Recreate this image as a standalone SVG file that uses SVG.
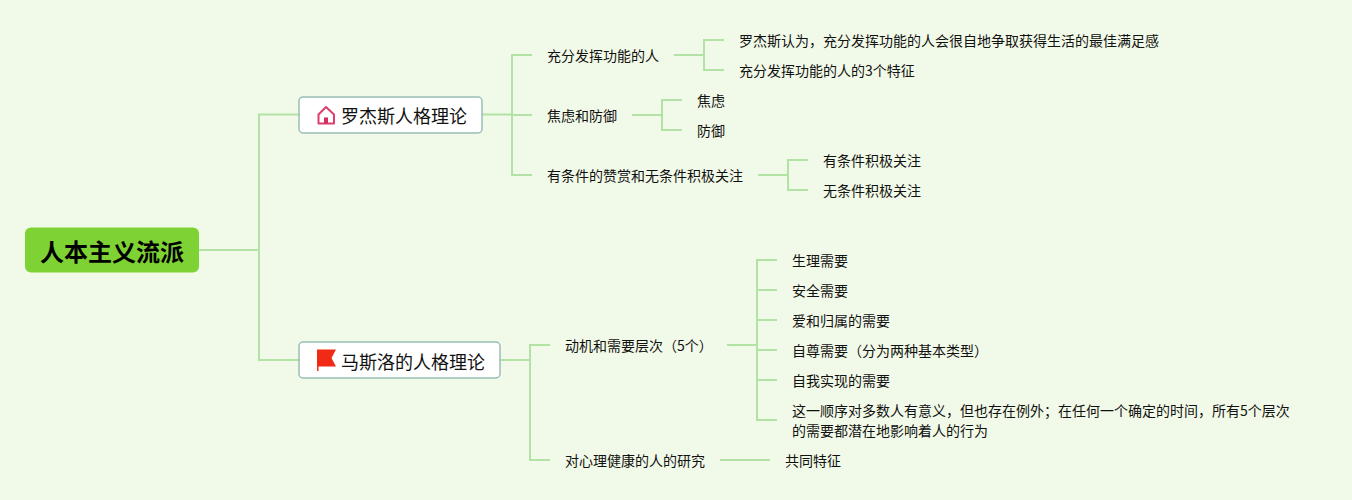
<svg xmlns="http://www.w3.org/2000/svg" width="1352" height="500" viewBox="0 0 1352 500">
<style>
text{font-family:"Noto Sans CJK SC","Liberation Sans",sans-serif;fill:#111;dominant-baseline:central}
.t{font-size:14px}
.m{font-size:18px}
.r{font-size:24px;font-weight:700;fill:#000}
.box{fill:#fff;stroke:#9abdb6;stroke-width:1.500}
.c path{fill:none;stroke:#b3e2a5;stroke-width:2}
</style>
<rect width="1352" height="500" fill="#f1fae8"/>
<g id="connectors" class="c">
<path d="M199 250H259M299 114.500H259V360H299"/>
<path d="M482 114.500H512M532 55H512V175H532M512 115H532"/>
<path d="M500 360H530M550 345H530V460H550"/>
<path d="M674 55H704M724 40H704V70H724"/>
<path d="M632 115H662M682 100H662V130H682"/>
<path d="M758 175H788M808 160H788V190H808"/>
<path d="M727 345H757M777 260H757V420H777M757 290H777M757 320H777M757 350H777M757 380H777"/>
<path d="M720 460H770"/>
</g>
<g id="root"><rect x="25" y="227.500" width="174" height="45" rx="6" fill="#7ed233"/><text class="r" x="40" y="250.500">人本主义流派</text></g>
<g id="n-rogers"><rect class="box" x="299" y="97" width="183" height="36" rx="4"/>
<path d="M326 107L318.500 114.500V123.500H334V114.500Z" fill="#fff" stroke="#dc3f6c" stroke-width="2" stroke-linejoin="round"/><rect x="324" y="117.500" width="4" height="6" fill="#d22f5f"/>
<text class="m" x="341" y="115">罗杰斯人格理论</text></g>
<g id="n-maslow"><rect class="box" x="299" y="342" width="201" height="36" rx="4"/>
<path d="M317 349.500H336L331.500 358L336 366.500H318.500V371H317Z" fill="#f02a14"/>
<text class="m" x="341" y="361">马斯洛的人格理论</text></g>
<g id="a1"><text class="t" x="547" y="55">充分发挥功能的人</text></g>
<g id="a2"><text class="t" x="547" y="115">焦虑和防御</text></g>
<g id="a3"><text class="t" x="547" y="175">有条件的赞赏和无条件积极关注</text></g>
<g id="a11"><text class="t" x="739" y="40">罗杰斯认为，充分发挥功能的人会很自地争取获得生活的最佳满足感</text></g>
<g id="a12"><text class="t" x="739" y="70">充分发挥功能的人的3个特征</text></g>
<g id="a21"><text class="t" x="697" y="100">焦虑</text></g>
<g id="a22"><text class="t" x="697" y="130">防御</text></g>
<g id="a31"><text class="t" x="823" y="160">有条件积极关注</text></g>
<g id="a32"><text class="t" x="823" y="190">无条件积极关注</text></g>
<g id="b1"><text class="t" x="565" y="345">动机和需要层次（5个）</text></g>
<g id="b2"><text class="t" x="565" y="460">对心理健康的人的研究</text></g>
<g id="b11"><text class="t" x="792" y="260">生理需要</text></g>
<g id="b12"><text class="t" x="792" y="290">安全需要</text></g>
<g id="b13"><text class="t" x="792" y="320">爱和归属的需要</text></g>
<g id="b14"><text class="t" x="792" y="350">自尊需要（分为两种基本类型）</text></g>
<g id="b15"><text class="t" x="792" y="380">自我实现的需要</text></g>
<g id="b16"><text class="t" x="792" y="410">这一顺序对多数人有意义，但也存在例外；在任何一个确定的时间，所有5个层次</text><text class="t" x="792" y="430">的需要都潜在地影响着人的行为</text></g>
<g id="b21"><text class="t" x="785" y="460">共同特征</text></g>
</svg>
